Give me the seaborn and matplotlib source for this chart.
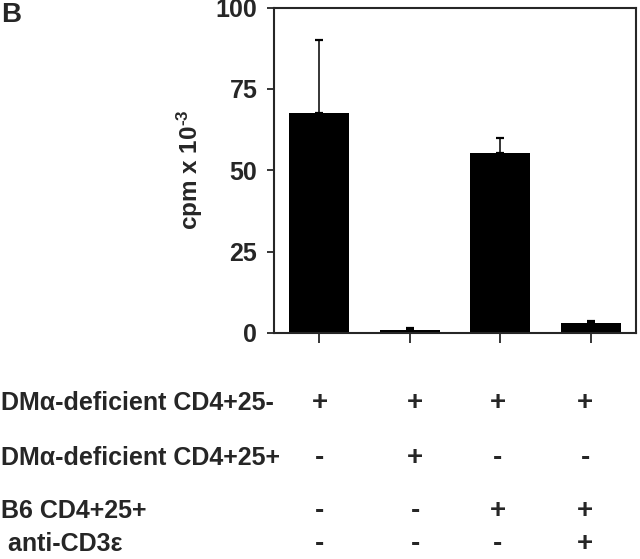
import matplotlib
matplotlib.use("Agg")
import matplotlib.pyplot as plt
import seaborn as sns
import pandas as pd
import numpy as np

groups = ["1", "2", "3", "4"]
means = [67.6, 1.0, 55.4, 3.2]
err_up = [22.4, 0.6, 4.4, 0.6]
y_ticks = [0, 25, 50, 75, 100]

row_labels = ["DM\u03b1-deficient CD4+25-", "DM\u03b1-deficient CD4+25+", "B6 CD4+25+", " anti-CD3\u03b5"]
row_signs = [
    ["+", "+", "+", "+"],
    ["-", "+", "-", "-"],
    ["-", "-", "+", "+"],
    ["-", "-", "-", "+"],
]

sns.set_style("ticks")
plt.rcParams["font.family"] = ["Liberation Sans", "DejaVu Sans"]
plt.rcParams["font.weight"] = "bold"
plt.rcParams["mathtext.fontset"] = "custom"
plt.rcParams["mathtext.rm"] = "Liberation Sans:bold"
plt.rcParams["mathtext.bf"] = "Liberation Sans:bold"
plt.rcParams["mathtext.default"] = "rm"

fig = plt.figure(figsize=(6.4, 5.59), dpi=100)
W, H = 640, 559
left, right, top, bottom = 274, 636, 7.5, 333
ax = fig.add_axes([left / W, 1 - bottom / H, (right - left) / W, (bottom - top) / H])

df = pd.DataFrame({"group": groups, "value": means})
sns.barplot(data=df, x="group", y="value", color="black", saturation=1, width=0.66,
            errorbar=None, ax=ax, edgecolor="none")
ax.errorbar(np.arange(len(groups)), means, yerr=[np.zeros(len(groups)), err_up],
            fmt="none", ecolor="black", elinewidth=1.1, capsize=3, capthick=1.6)

ax.set_xlim(-0.5, 3.5)
ax.set_ylim(0, 100)
ax.set_yticks(y_ticks)
ax.set_yticklabels([str(t) for t in y_ticks], fontsize=18, fontweight="bold")
ax.set_xticks(range(len(groups)))
ax.set_xticklabels([])
ax.set_xlabel("")
ax.set_ylabel(r"cpm x 10$^{\text{-3}}$", fontsize=17.5, fontweight="bold")
ax.yaxis.set_label_coords(-0.19, 0.5)
ax.tick_params(axis="y", length=5, width=1.3, pad=7)
ax.tick_params(axis="x", length=7, width=1.3)
for s in ax.spines.values():
    s.set_visible(True)
    s.set_linewidth(1.5)

fig.text(1 / W, 1 - 15 / H, "B", fontsize=20, fontweight="bold", va="center", ha="left")

row_y = [403, 458, 511, 544]
sign_x = [320, 415, 498, 585]
for r, (lab, yy) in enumerate(zip(row_labels, row_y)):
    fig.text(1 / W, 1 - (yy + 7) / H, lab, fontsize=18, fontweight="bold",
             va="baseline", ha="left")
    for c, sgn in enumerate(row_signs[r]):
        fig.text(sign_x[c] / W, 1 - (yy + 7) / H, sgn, fontsize=20, fontweight="bold",
                 va="baseline", ha="center")

fig.savefig("out.png", dpi=100)
